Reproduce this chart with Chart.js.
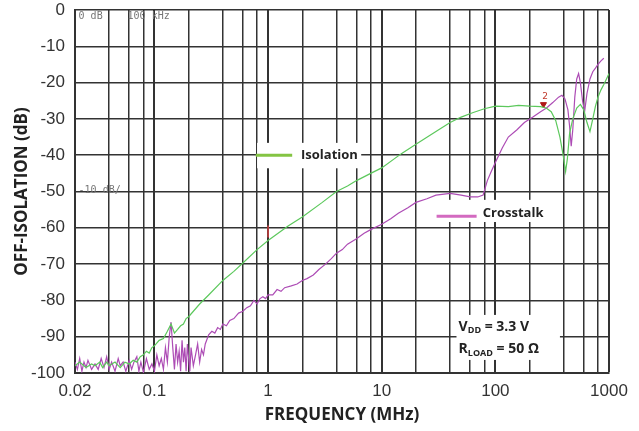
<!DOCTYPE html>
<html>
<head>
<meta charset="utf-8">
<script src="https://cdn.jsdelivr.net/npm/chart.js@4.4.1/dist/chart.umd.min.js"></script>
<style>
  body { margin: 0; background: #fff; }
  #wrap { width: 639px; height: 431px; }
</style>
</head>
<body>
<div id="wrap"><canvas id="isoChart" width="639" height="431"></canvas></div>
<script>
// frequency grid (MHz) and the labelled ones
const xGrid = [0.02, 0.04, 0.06, 0.08, 0.1, 0.2, 0.4, 0.6, 0.8, 1, 2, 4, 6, 8, 10,
               20, 40, 60, 80, 100, 200, 400, 600, 800, 1000];
const xLabels = [0.02, 0.1, 1, 10, 100, 1000];

// Isolation curve (green)
const isoFreq = [0.02, 0.022, 0.025, 0.028, 0.03, 0.033, 0.035, 0.038, 0.04, 0.045, 0.05, 0.055,
  0.06, 0.065, 0.07, 0.075, 0.08, 0.085, 0.09, 0.095, 0.1, 0.11, 0.12, 0.13, 0.14, 0.15, 0.16,
  0.17, 0.18, 0.19, 0.2, 0.25, 0.3, 0.4, 0.5, 0.6, 0.8, 1, 1.5, 2, 3, 4, 5, 6, 8, 10, 15, 20,
  30, 40, 50, 63, 80, 100, 130, 160, 200, 250, 280, 310, 340, 370, 395, 415, 430, 450, 480,
  520, 560, 600, 640, 680, 720, 760, 800, 850, 900, 950, 1000];
const isoDb = [-98, -97, -98.5, -97.5, -98, -97, -98.5, -97, -98, -97, -98.5, -97,
  -97.5, -96.5, -97, -95.5, -95, -94, -94.5, -93, -92.5, -91, -90.5, -88.5, -86.5, -89, -88,
  -87, -86.5, -85, -84.5, -81, -78.5, -74.5, -72, -69.7, -66, -63.5, -59.5, -57, -53, -50, -48.5, -47, -45, -43.5, -39.5, -37,
  -33.5, -31, -29.5, -28.3, -27.2, -26.5, -26.6, -26.3, -26.5, -26.6, -27, -28, -30.5, -35, -40, -44.5, -41, -34, -30,
  -27, -26, -27.5, -31, -33.5, -30, -26.5, -24, -22, -20.5, -19, -17.5];

// Crosstalk curve (magenta)
const xtFreq = [0.02, 0.021, 0.022, 0.023, 0.024, 0.025, 0.026, 0.028, 0.03, 0.032, 0.034, 0.036,
  0.038, 0.04, 0.042, 0.045, 0.048, 0.05, 0.053, 0.056, 0.06, 0.063, 0.066, 0.07, 0.073, 0.076,
  0.08, 0.085, 0.09, 0.095, 0.1, 0.105, 0.11, 0.115, 0.12, 0.125, 0.13, 0.135, 0.14, 0.145, 0.15,
  0.155, 0.16, 0.165, 0.17, 0.175, 0.18, 0.185, 0.19, 0.195, 0.2, 0.205, 0.21, 0.22, 0.23, 0.24,
  0.25, 0.26, 0.27, 0.28, 0.3, 0.32, 0.34, 0.36, 0.38, 0.4, 0.43, 0.46, 0.5, 0.55, 0.6, 0.65,
  0.7, 0.75, 0.8, 0.85, 0.9, 0.95, 1, 1.1, 1.2, 1.3, 1.4, 1.6, 1.8, 2, 2.2, 2.5, 2.8, 3.2, 3.6,
  4, 4.5, 5, 6, 7, 8, 10, 12, 14, 17, 20, 25, 30, 40, 50, 60, 70, 78, 85, 92, 100, 115, 130,
  155, 180, 214, 250, 282, 320, 360, 385, 410, 435, 450, 465, 480, 500, 520, 540, 560, 585,
  610, 640, 680, 720, 760, 800, 850, 900];
const xtDb = [-97, -99, -96, -99.5, -97, -98.5, -96.5, -99, -97.5, -99, -96, -98.5,
  -95.5, -99, -97, -99.5, -96, -98, -97, -99.5, -96.5, -99, -97, -95.5, -99.5, -97,
  -99.8, -96, -99, -97.5, -99.5, -95, -98, -96, -99, -93, -97, -90, -86, -93, -99,
  -92, -97, -94, -99.5, -91, -97, -93, -99.5, -92, -96, -99.5, -93, -98, -95, -92,
  -97, -93.5, -95, -92, -89.5, -88.5, -89, -87.5, -88, -86.5, -87, -85.5, -85, -83.5, -83, -82,
  -81.5, -80, -81, -79.5, -79, -79.5, -78.5, -78.5, -77, -77.5, -76.5, -76, -75.5, -74.5, -74, -73, -71.5, -70, -68.5,
  -67, -66, -64.5, -63, -61.5, -60.5, -59, -57.5, -56, -54.5, -53, -52, -51, -50.5, -51, -51.5, -51.5, -51, -47, -44.5, -42, -38, -35,
  -33, -31, -29.5, -28, -27, -25.5, -24, -23.5, -24.5, -27.5, -32, -37.5, -33, -24, -19, -17.5, -20, -25,
  -28, -23, -19, -17, -16, -15, -14, -13.3];

// scope markers
const markFreq = [265];
const markDb = [-26];
const mark1Freq = [1];
const mark1Db = [-61];

const toXY = (xs, ys) => xs.map((x, i) => ({ x: x, y: ys[i] }));
const isDecade = v => Math.abs(Math.log10(v) - Math.round(Math.log10(v))) < 1e-6;

const overlay = {
  id: 'overlay',
  beforeDatasetsDraw(chart) {
    const { ctx, scales: { x, y } } = chart;
    ctx.save();
    ctx.fillStyle = '#fff';
    const box = (f1, f2, d1, d2) => {
      const px1 = x.getPixelForValue(f1), px2 = x.getPixelForValue(f2);
      const py1 = y.getPixelForValue(d1), py2 = y.getPixelForValue(d2);
      ctx.fillRect(px1, py1, px2 - px1, py2 - py1);
    };
    box(0.8, 6.6, -36.6, -43.6);
    box(27.4, 370, -52.3, -58.4);
    box(45.5, 370, -84, -96.4);
    ctx.restore();
  },
  afterDatasetsDraw(chart) {
    const { ctx, scales: { x, y } } = chart;
    ctx.save();
    // legend swatches
    ctx.lineWidth = 3;
    ctx.strokeStyle = '#84c443';
    ctx.beginPath();
    ctx.moveTo(x.getPixelForValue(0.78), y.getPixelForValue(-40));
    ctx.lineTo(x.getPixelForValue(1.63), y.getPixelForValue(-40));
    ctx.stroke();
    ctx.strokeStyle = '#d36ac0';
    ctx.beginPath();
    ctx.moveTo(x.getPixelForValue(30.4), y.getPixelForValue(-56.8));
    ctx.lineTo(x.getPixelForValue(68.4), y.getPixelForValue(-56.8));
    ctx.stroke();

    ctx.fillStyle = '#222';
    ctx.textBaseline = 'middle';
    ctx.font = 'bold 13px "Open Sans", sans-serif';
    ctx.fillText('Isolation', x.getPixelForValue(1.95), y.getPixelForValue(-40));
    ctx.fillText('Crosstalk', x.getPixelForValue(77.5), y.getPixelForValue(-56));

    // conditions
    const sub = (main, low, rest, f, d) => {
      let px = x.getPixelForValue(f);
      const py = y.getPixelForValue(d);
      ctx.font = 'bold 14px "Open Sans", sans-serif';
      ctx.fillText(main, px, py);
      px += ctx.measureText(main).width;
      ctx.font = 'bold 9px "Open Sans", sans-serif';
      ctx.fillText(low, px, py + 4);
      px += ctx.measureText(low).width;
      ctx.font = 'bold 14px "Open Sans", sans-serif';
      ctx.fillText(rest, px, py);
    };
    sub('V', 'DD', ' = 3.3 V', 47.5, -87.3);
    sub('R', 'LOAD', ' = 50 Ω', 47.5, -93.4);

    // scope screen remnants
    ctx.fillStyle = '#777';
    ctx.font = '10px "DejaVu Sans Mono", monospace';
    ctx.fillText('0 dB', x.getPixelForValue(0.0215), y.getPixelForValue(-1.8));
    ctx.fillText('100 kHz', x.getPixelForValue(0.058), y.getPixelForValue(-1.8));
    ctx.fillText('-10 dB/', x.getPixelForValue(0.0215), y.getPixelForValue(-49.6));
    ctx.fillStyle = '#c0392b';
    ctx.font = '9px "DejaVu Sans", sans-serif';
    ctx.fillText('2', x.getPixelForValue(258), y.getPixelForValue(-24));
    ctx.restore();
  }
};

const ctx = document.getElementById('isoChart').getContext('2d');
new Chart(ctx, {
  type: 'line',
  data: {
    datasets: [{
      label: 'Isolation',
      data: toXY(isoFreq, isoDb),
      borderColor: '#5cc85c',
      borderWidth: 1.2,
      pointRadius: 0,
      tension: 0
    }, {
      label: 'Crosstalk',
      data: toXY(xtFreq, xtDb),
      borderColor: '#ad4cb5',
      borderWidth: 1.2,
      pointRadius: 0,
      tension: 0
    }, {
      label: 'marker 2',
      type: 'scatter',
      data: toXY(markFreq, markDb),
      pointStyle: 'triangle',
      rotation: 180,
      pointRadius: 3.5,
      backgroundColor: '#b01818',
      borderColor: '#b01818'
    }, {
      label: 'marker 1',
      type: 'scatter',
      data: toXY(mark1Freq, mark1Db),
      pointStyle: 'line',
      rotation: 90,
      pointRadius: 6,
      borderWidth: 1.5,
      borderColor: '#d04040'
    }]
  },
  options: {
    responsive: false,
    animation: false,
    layout: { padding: { top: 0, right: 30, left: 0, bottom: 0 } },
    plugins: {
      legend: { display: false },
      tooltip: { enabled: false }
    },
    scales: {
      x: {
        type: 'logarithmic',
        min: 0.02,
        max: 1000,
        afterBuildTicks: scale => { scale.ticks = xGrid.map(v => ({ value: v })); },
        afterFit: scale => { scale.height = 58; },
        ticks: {
          autoSkip: false,
          maxRotation: 0,
          padding: 8,
          color: '#333',
          font: { family: '"Liberation Sans", Arial, sans-serif', size: 17 },
          callback: v => xLabels.includes(v) ? String(v) : ''
        },
        grid: {
          color: '#333',
          lineWidth: c => (c.tick && isDecade(c.tick.value)) ? 2 : 1.5,
          drawTicks: false
        },
        border: { color: '#333', width: 2 },
        title: {
          display: true,
          text: 'FREQUENCY (MHz)',
          color: '#222',
          font: { family: '"Open Sans", sans-serif', size: 17, weight: 'bold' },
          padding: { top: 0, bottom: 6 }
        }
      },
      y: {
        min: -100,
        max: 0,
        afterFit: scale => {
          scale.width = 75;
          scale.paddingTop = 10;
          scale.paddingBottom = 10;
        },
        ticks: {
          stepSize: 10,
          padding: 10,
          color: '#333',
          font: { family: '"Liberation Sans", Arial, sans-serif', size: 17 }
        },
        grid: { color: '#333', lineWidth: 1.5, drawTicks: false },
        border: { color: '#333', width: 2 },
        title: {
          display: true,
          text: 'OFF-ISOLATION (dB)',
          color: '#222',
          font: { family: '"Open Sans", sans-serif', size: 17, weight: 'bold' },
          padding: { top: 12, bottom: 0 }
        }
      }
    }
  },
  plugins: [overlay]
});
</script>
</body>
</html>
